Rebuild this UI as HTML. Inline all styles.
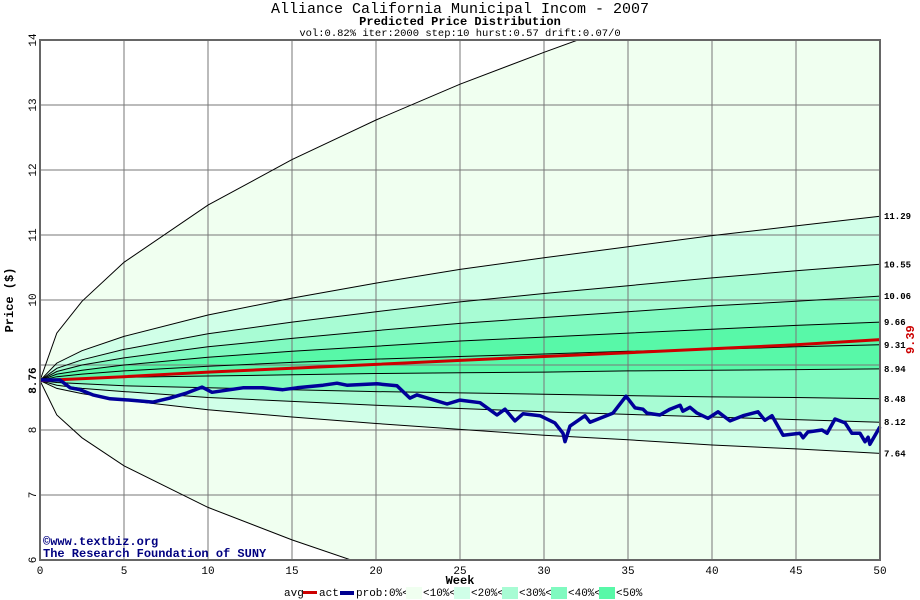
<!DOCTYPE html>
<html><head><meta charset="utf-8">
<style>
html,body{margin:0;padding:0;background:#fff;overflow:hidden;width:920px;height:600px;}
svg{display:block;}
svg text{font-family:"Liberation Mono",monospace;}
</style></head>
<body>
<svg id="chart" width="920" height="600" xmlns="http://www.w3.org/2000/svg">
<text x="460" y="13" text-anchor="middle" font-size="15">Alliance California Municipal Incom - 2007</text>
<text x="460" y="25" text-anchor="middle" font-size="12" font-weight="bold">Predicted Price Distribution</text>
<text x="460" y="36" text-anchor="middle" font-size="10.5">vol:0.82% iter:2000 step:10 hurst:0.57 drift:0.07/0</text>
<g id="bands"></g>
<g id="grid"></g>
<g id="curves"></g>
<g id="series"></g>
<g id="axes"></g>
<text x="43" y="545" font-size="12" font-weight="bold" fill="#000080">©www.textbiz.org</text>
<text x="43" y="557" font-size="12" font-weight="bold" fill="#000080">The Research Foundation of SUNY</text>
<text x="460" y="584" text-anchor="middle" font-size="12" font-weight="bold">Week</text>
<text transform="translate(13,300) rotate(-90)" text-anchor="middle" font-size="12" font-weight="bold">Price ($)</text>
<g font-size="11">
<text x="284" y="596">avg</text>
<rect x="303" y="591" width="14" height="3" fill="#cc0000"/>
<text x="319" y="596">act</text>
<rect x="340" y="591" width="14" height="4" fill="#000090"/>
<text x="356" y="596">prob:0%&lt;</text>
<rect x="406" y="587" width="16" height="12" fill="#f0fff0"/>
<text x="423" y="596">&lt;10%&lt;</text>
<rect x="454" y="587" width="16" height="12" fill="#d0ffe8"/>
<text x="471" y="596">&lt;20%&lt;</text>
<rect x="502" y="587" width="16" height="12" fill="#a8fcd4"/>
<text x="519" y="596">&lt;30%&lt;</text>
<rect x="551" y="587" width="16" height="12" fill="#80fac0"/>
<text x="568" y="596">&lt;40%&lt;</text>
<rect x="599" y="587" width="16" height="12" fill="#58f8a8"/>
<text x="616" y="596">&lt;50%</text>
</g>
</svg>
<script>
const weeks = [0,1,2.5,5,10,15,20,25,30,35,40,45,50];
const outerUpper = [8.76,9.49,9.98,10.58,11.46,12.16,12.77,13.32,13.81,14.28,14.72,15.13,15.52];
const p1129 = [8.76,9.03,9.22,9.44,9.77,10.03,10.26,10.47,10.65,10.82,10.99,11.14,11.29];
const p1055 = [8.76,8.95,9.08,9.24,9.48,9.66,9.82,9.97,10.10,10.22,10.34,10.45,10.55];
const p1006 = [8.76,8.90,9.00,9.11,9.28,9.41,9.53,9.64,9.73,9.82,9.91,9.98,10.06];
const p966 = [8.76,8.86,8.92,9.00,9.12,9.21,9.29,9.37,9.43,9.49,9.55,9.61,9.66];
const p931 = [8.76,8.82,8.86,8.91,8.98,9.04,9.09,9.13,9.17,9.21,9.24,9.28,9.31];
const p894 = [8.76,8.78,8.79,8.81,8.83,8.85,8.87,8.88,8.89,8.91,8.92,8.93,8.94];
const p848 = [8.76,8.73,8.71,8.68,8.65,8.62,8.59,8.57,8.55,8.53,8.51,8.50,8.48];
const p812 = [8.76,8.69,8.64,8.59,8.50,8.44,8.38,8.33,8.28,8.24,8.20,8.16,8.12];
const p764 = [8.76,8.64,8.56,8.46,8.31,8.20,8.10,8.01,7.92,7.85,7.77,7.71,7.64];
const outerLower = [8.76,8.23,7.88,7.45,6.81,6.31,5.87,5.48,5.12,4.79,4.47,4.17,3.89];
const endLabels = ["11.29","10.55","10.06","9.66","9.31","8.94","8.48","8.12","7.64"];
const endValues = [11.29,10.55,10.06,9.66,9.31,8.94,8.48,8.12,7.64];
const avgWeeks = [0,5,10,15,20,25,30,35,40,45,50];
const avgValues = [8.76,8.82,8.89,8.95,9.01,9.07,9.13,9.19,9.25,9.31,9.39];
const actWeeks = [0,1.19,1.79,2.38,3.15,4.17,5.36,6.73,7.74,8.75,9.64,10.24,11.31,12.08,13.27,14.46,15.30,16.85,17.68,18.27,20.06,21.25,22.02,22.44,23.21,24.23,25.0,26.19,27.20,27.68,28.27,28.75,29.76,30.65,31.13,31.25,31.55,32.44,32.74,34.11,34.88,35.42,35.89,36.13,36.90,37.5,38.10,38.27,38.69,39.11,39.76,40.36,41.07,41.85,42.74,43.15,43.57,44.23,45.24,45.42,45.71,46.55,46.85,47.32,47.92,48.33,48.81,49.11,49.29,49.40,50];
const actValues = [8.77,8.77,8.65,8.62,8.54,8.48,8.46,8.43,8.49,8.57,8.66,8.58,8.62,8.65,8.65,8.62,8.65,8.69,8.72,8.69,8.71,8.68,8.49,8.54,8.48,8.40,8.46,8.42,8.23,8.32,8.14,8.25,8.22,8.11,7.95,7.82,8.06,8.22,8.12,8.26,8.52,8.34,8.32,8.26,8.23,8.32,8.38,8.29,8.35,8.26,8.18,8.28,8.14,8.22,8.28,8.15,8.22,7.92,7.95,7.88,7.97,8.00,7.95,8.17,8.11,7.95,7.95,7.82,7.89,7.78,8.05];
const xTicks = [0,5,10,15,20,25,30,35,40,45,50];
const yTicks = [6,7,8,9,10,11,12,13,14];

const NS = "http://www.w3.org/2000/svg";
const X0=40, X1=880, Y0=560, Y1=40, WMAX=50, PMIN=6, PMAX=14;
function xs(w){return X0+(w/WMAX)*(X1-X0);}
function ys(p){return Y0-(p-PMIN)/(PMAX-PMIN)*(Y0-Y1);}
function mk(tag,parent){const e=document.createElementNS(NS,tag);parent.appendChild(e);return e;}
function pts(wa,va){return wa.map((w,i)=>xs(w).toFixed(1)+","+ys(va[i]).toFixed(1));}

const svg=document.getElementById('chart');
const defs=mk('defs',svg);
const cp=mk('clipPath',defs);cp.setAttribute('id','plotclip');
const cr=mk('rect',cp);cr.setAttribute('x',X0);cr.setAttribute('y',Y1);cr.setAttribute('width',X1-X0);cr.setAttribute('height',Y0-Y1);

const bands=document.getElementById('bands');
bands.setAttribute('clip-path','url(#plotclip)');
const bandPairs=[[outerUpper,outerLower,'#f0fff0','band-0-10'],[p1129,p764,'#d0ffe8','band-10-20'],[p1055,p812,'#a8fcd4','band-20-30'],[p1006,p848,'#80fac0','band-30-40'],[p966,p894,'#58f8a8','band-40-50']];
bandPairs.forEach(b=>{
  const pg=mk('polygon',bands);
  
  
  const up=pts(weeks,b[0]);const lo=pts(weeks,b[1]).reverse();
  pg.setAttribute('points',up.concat(lo).join(' '));
  pg.setAttribute('fill',b[2]);
});

const grid=document.getElementById('grid');
xTicks.forEach(t=>{
  const l=mk('line',grid);
  
  
  l.setAttribute('x1',xs(t));l.setAttribute('x2',xs(t));l.setAttribute('y1',Y1);l.setAttribute('y2',Y0);
  l.setAttribute('stroke','#777');l.setAttribute('stroke-width','1');
});
yTicks.forEach(t=>{
  const l=mk('line',grid);
  
  
  l.setAttribute('x1',X0);l.setAttribute('x2',X1);l.setAttribute('y1',ys(t));l.setAttribute('y2',ys(t));
  l.setAttribute('stroke','#777');l.setAttribute('stroke-width','1');
});

const curves=document.getElementById('curves');
curves.setAttribute('clip-path','url(#plotclip)');
[outerUpper,p1129,p1055,p1006,p966,p931,p894,p848,p812,p764,outerLower].forEach(c=>{
  const pl=mk('polyline',curves);
  
  
  pl.setAttribute('points',pts(weeks,c).join(' '));
  pl.setAttribute('fill','none');pl.setAttribute('stroke','#000');pl.setAttribute('stroke-width','1');
});

const series=document.getElementById('series');
const avg=mk('polyline',series);


avg.setAttribute('points',pts(avgWeeks,avgValues).join(' '));
avg.setAttribute('fill','none');avg.setAttribute('stroke','#cc0000');avg.setAttribute('stroke-width','3');
const act=mk('polyline',series);


act.setAttribute('points',pts(actWeeks,actValues).join(' '));
act.setAttribute('fill','none');act.setAttribute('stroke','#000099');act.setAttribute('stroke-width','3.5');act.setAttribute('stroke-linejoin','round');

const axes=document.getElementById('axes');
const frame=mk('rect',axes);


frame.setAttribute('x',X0);frame.setAttribute('y',Y1);frame.setAttribute('width',X1-X0);frame.setAttribute('height',Y0-Y1);
frame.setAttribute('fill','none');frame.setAttribute('stroke','#666');frame.setAttribute('stroke-width','2');
xTicks.forEach(t=>{
  const tx=mk('text',axes);
  
  
  tx.setAttribute('x',xs(t));tx.setAttribute('y',574);tx.setAttribute('text-anchor','middle');tx.setAttribute('font-size','11');
  tx.textContent=t;
});
yTicks.forEach(t=>{
  if(Math.abs(t-avgValues[0])<0.4) return;
  const tx=mk('text',axes);
  
  
  tx.setAttribute('transform','translate(36,'+ys(t)+') rotate(-90)');tx.setAttribute('text-anchor','middle');tx.setAttribute('font-size','11');
  tx.textContent=t;
});
const startLbl=mk('text',axes);


startLbl.setAttribute('transform','translate(36,'+ys(avgValues[0])+') rotate(-90)');startLbl.setAttribute('text-anchor','middle');startLbl.setAttribute('font-size','11');startLbl.setAttribute('font-weight','bold');
startLbl.textContent=avgValues[0].toFixed(2);
endLabels.forEach((s,i)=>{
  const tx=mk('text',axes);
  
  
  tx.setAttribute('x',884);tx.setAttribute('y',ys(endValues[i])+3);tx.setAttribute('font-size','9');tx.setAttribute('font-weight','bold');
  tx.textContent=s;
});
const avgLbl=mk('text',axes);


avgLbl.setAttribute('transform','translate(914,'+ys(avgValues[avgValues.length-1])+') rotate(-90)');avgLbl.setAttribute('text-anchor','middle');avgLbl.setAttribute('font-size','12');avgLbl.setAttribute('font-weight','bold');avgLbl.setAttribute('fill','#cc0000');
avgLbl.textContent=avgValues[avgValues.length-1].toFixed(2);
</script>
</body></html>
